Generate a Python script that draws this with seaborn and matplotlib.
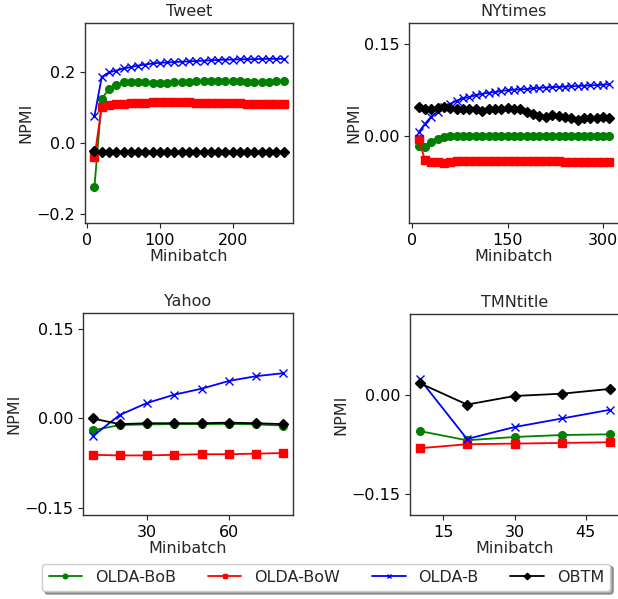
import numpy as np
import pandas as pd
import matplotlib
matplotlib.use("Agg")
import matplotlib.pyplot as plt
from matplotlib.ticker import MultipleLocator
import seaborn as sns

sns.set_style("ticks")
plt.rcParams['font.family'] = ['DejaVu Sans']
plt.rcParams['axes.unicode_minus'] = True

series_names = ["OLDA-BoB", "OLDA-BoW", "OLDA-B", "OBTM"]
series_colors = ["#008000", "#ff0000", "#0000ff", "#000000"]
series_markers = ["o", "s", "x", "D"]

# ---- Tweet ----
tweet_x = list(range(10, 271, 10))
tweet_bob = [-0.124, 0.125, 0.152, 0.164, 0.171, 0.172, 0.172, 0.171, 0.170, 0.170, 0.170, 0.171, 0.172, 0.173,
             0.174, 0.175, 0.175, 0.175, 0.174, 0.174, 0.174, 0.173, 0.173, 0.173, 0.173, 0.174, 0.174]
tweet_bow = [-0.039, 0.102, 0.107, 0.110, 0.111, 0.112, 0.113, 0.114, 0.115, 0.115, 0.115, 0.115, 0.115, 0.115,
             0.114, 0.114, 0.113, 0.113, 0.112, 0.112, 0.112, 0.111, 0.111, 0.111, 0.111, 0.111, 0.111]
tweet_b = [0.076, 0.186, 0.199, 0.204, 0.210, 0.214, 0.218, 0.221, 0.224, 0.226, 0.227, 0.228, 0.229, 0.230,
           0.231, 0.232, 0.233, 0.234, 0.235, 0.235, 0.236, 0.236, 0.236, 0.237, 0.237, 0.237, 0.237]
tweet_obtm = [-0.022, -0.026, -0.026, -0.025, -0.025, -0.026, -0.025, -0.026, -0.026, -0.026, -0.025, -0.026,
              -0.026, -0.025, -0.026, -0.026, -0.025, -0.025, -0.026, -0.025, -0.025, -0.024, -0.025, -0.025,
              -0.025, -0.025, -0.025]

# ---- NYtimes ----
ny_x = list(range(10, 311, 10))
ny_bob = [-0.016, -0.017, -0.010, -0.004, -0.001, 0.000, 0.0003, 0.0005, 0.0005, 0.0005, 0.0005, 0.0005, 0.0008,
          0.001, 0.001, 0.001, 0.001, 0.001, 0.001, 0.001, 0.001, 0.001, 0.001, 0.001, 0.001, 0.001, 0.001,
          0.001, 0.001, 0.001, 0.001]
ny_bow = [-0.004, -0.039, -0.042, -0.042, -0.044, -0.042, -0.041, -0.041, -0.041, -0.041, -0.041, -0.041, -0.041,
          -0.041, -0.041, -0.041, -0.041, -0.041, -0.041, -0.041, -0.041, -0.041, -0.041, -0.042, -0.042, -0.042,
          -0.042, -0.042, -0.042, -0.042, -0.042]
ny_b = [0.006, 0.020, 0.032, 0.040, 0.047, 0.053, 0.058, 0.062, 0.064, 0.067, 0.069, 0.071, 0.072, 0.074, 0.075,
        0.076, 0.0765, 0.077, 0.078, 0.079, 0.0795, 0.080, 0.0805, 0.081, 0.0815, 0.082, 0.0825, 0.083, 0.0835,
        0.084, 0.085]
ny_obtm = [0.048, 0.045, 0.045, 0.046, 0.047, 0.046, 0.045, 0.044, 0.045, 0.044, 0.041, 0.044, 0.045, 0.044,
           0.046, 0.044, 0.044, 0.040, 0.036, 0.033, 0.032, 0.034, 0.033, 0.031, 0.029, 0.026, 0.029, 0.030,
           0.030, 0.031, 0.030]

# ---- Yahoo ----
yahoo_x = [10, 20, 30, 40, 50, 60, 70, 80]
yahoo_bob = [-0.020, -0.011, -0.010, -0.0095, -0.0095, -0.009, -0.010, -0.012]
yahoo_bow = [-0.061, -0.062, -0.062, -0.061, -0.060, -0.060, -0.059, -0.058]
yahoo_b = [-0.030, 0.006, 0.026, 0.040, 0.050, 0.063, 0.071, 0.076]
yahoo_obtm = [0.000, -0.0095, -0.008, -0.008, -0.008, -0.007, -0.008, -0.0095]

# ---- TMNtitle ----
tmn_x = [10, 20, 30, 40, 50]
tmn_bob = [-0.055, -0.069, -0.064, -0.061, -0.060]
tmn_bow = [-0.081, -0.075, -0.074, -0.073, -0.072]
tmn_b = [0.024, -0.067, -0.049, -0.036, -0.023]
tmn_obtm = [0.0176, -0.015, -0.002, 0.0015, 0.0086]

panels = [
    ("Tweet", tweet_x, [tweet_bob, tweet_bow, tweet_b, tweet_obtm]),
    ("NYtimes", ny_x, [ny_bob, ny_bow, ny_b, ny_obtm]),
    ("Yahoo", yahoo_x, [yahoo_bob, yahoo_bow, yahoo_b, yahoo_obtm]),
    ("TMNtitle", tmn_x, [tmn_bob, tmn_bow, tmn_b, tmn_obtm]),
]

W, H = 618, 599
fig = plt.figure(figsize=(W / 100, H / 100), dpi=100)

boxes = [  # left, right, top, bottom in pixels
    (85, 293, 23, 223),
    (409, 619, 23, 223),
    (83, 293, 313, 515),
    (410, 619, 314, 515),
]
ylims = [(-0.225, 0.338), (-0.142, 0.185), (-0.162, 0.177), (-0.182, 0.122)]
xsteps = [100, 150, 30, 15]
ysteps = [0.2, 0.15, 0.15, 0.15]

FS = 11.5
handles = None
for i, (title, xs, ys_list) in enumerate(panels):
    l, r, t, b = boxes[i]
    ax = fig.add_axes([l / W, 1 - b / H, (r - l) / W, (b - t) / H])
    for name, color, mk, ys in zip(series_names, series_colors, series_markers, ys_list):
        df = pd.DataFrame({"Minibatch": xs, "NPMI": ys})
        sns.lineplot(data=df, x="Minibatch", y="NPMI", ax=ax, color=color, marker=mk,
                     markersize=5.5 if mk != "x" else 6, markeredgecolor=color,
                     markeredgewidth=1.0, linewidth=1.3, label=name, legend=False)
    ax.set_title(title, fontsize=FS, pad=5)
    ax.set_xlabel("Minibatch", fontsize=FS, labelpad=1)
    ax.set_ylabel("NPMI", fontsize=FS, labelpad=2)
    ax.set_ylim(*ylims[i])
    ax.xaxis.set_major_locator(MultipleLocator(xsteps[i]))
    ax.yaxis.set_major_locator(MultipleLocator(ysteps[i]))
    ax.tick_params(labelsize=FS, direction="out", length=3.5, width=0.8, colors="#222222")
    ax.tick_params(labelcolor="black")
    for sp in ax.spines.values():
        sp.set_visible(True)
        sp.set_color("#333333")
        sp.set_linewidth(1.0)
    if handles is None:
        handles, labels = ax.get_legend_handles_labels()

leg = fig.legend(handles, labels, loc="center", bbox_to_anchor=(0.528, 0.036), ncol=4,
                 fontsize=FS, frameon=True, shadow=True, fancybox=True, markerscale=0.6,
                 columnspacing=2.0, handlelength=2.1, edgecolor="#cccccc")
leg.get_frame().set_facecolor("white")

fig.savefig("out.png", dpi=100)
